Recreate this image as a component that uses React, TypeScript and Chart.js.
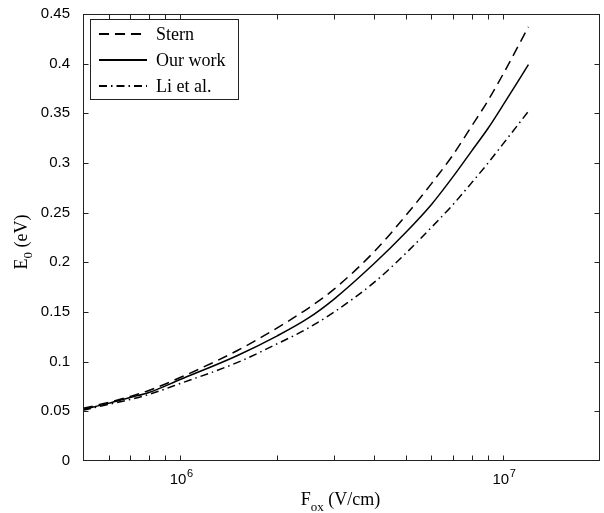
import React, { useEffect, useRef } from 'react';
import { Chart, registerables } from 'chart.js';

Chart.register(...registerables);

// Field values F_ox (V/cm)
const fieldValues = [5e5, 6e5, 7e5, 8e5, 1e6, 1.5e6, 2e6, 2.5e6, 3e6, 4e6, 5e6, 6e6, 7e6, 8e6, 9e6, 1e7, 1.2e7];
// E0 (eV) for each series
const sternValues = [0.053, 0.059, 0.065, 0.071, 0.084, 0.111, 0.134, 0.154, 0.173, 0.211, 0.247, 0.279, 0.308, 0.337, 0.363, 0.389, 0.437];
const ourWorkValues = [0.052, 0.058, 0.064, 0.069, 0.082, 0.106, 0.126, 0.144, 0.163, 0.199, 0.23, 0.258, 0.286, 0.312, 0.335, 0.358, 0.399];
const liValues = [0.051, 0.057, 0.062, 0.067, 0.078, 0.099, 0.118, 0.134, 0.15, 0.18, 0.209, 0.235, 0.258, 0.28, 0.3, 0.319, 0.352];

const seriesLabels = ['Stern', 'Our work', 'Li et al.'];

// Tick positions
const xTickValues = [5e5, 6e5, 7e5, 8e5, 9e5, 1e6, 2e6, 3e6, 4e6, 5e6, 6e6, 7e6, 8e6, 9e6, 1e7, 2e7];
const xLabelValues = [1e6, 1e7];
const xLabelExponents = ['6', '7'];
const yTickValues = [0, 0.05, 0.1, 0.15, 0.2, 0.25, 0.3, 0.35, 0.4, 0.45];

const xMin = 5e5;
const xMax = 2e7;
const yMin = 0;
const yMax = 0.45;

const dashes: number[][] = [[10, 6], [], [8, 4, 1.5, 4]];

const SERIF = '"Liberation Serif", "Times New Roman", serif';
const SANS = '"Liberation Sans", Arial, sans-serif';

const framePlugin = {
  id: 'matlabFrame',
  afterDraw(chart: any) {
    const { ctx, chartArea: a, scales } = chart;
    const xs = scales.x;
    const ys = scales.y;
    ctx.save();
    ctx.strokeStyle = '#222';
    ctx.lineWidth = 1;
    ctx.setLineDash([]);
    const L = Math.round(a.left) + 0.5;
    const R = Math.round(a.right) - 0.5;
    const T = Math.round(a.top) + 0.5;
    const B = Math.round(a.bottom) - 0.5;
    ctx.strokeRect(L, T, R - L, B - T);
    ctx.beginPath();
    for (const v of xTickValues) {
      const px = Math.round(xs.getPixelForValue(v)) + 0.5;
      if (px <= L + 1 || px >= R - 1) continue;
      ctx.moveTo(px, B);
      ctx.lineTo(px, B - 5);
      ctx.moveTo(px, T);
      ctx.lineTo(px, T + 5);
    }
    for (const v of yTickValues) {
      const py = Math.round(ys.getPixelForValue(v)) + 0.5;
      if (py <= T + 1 || py >= B - 1) continue;
      ctx.moveTo(L, py);
      ctx.lineTo(L + 5, py);
      ctx.moveTo(R, py);
      ctx.lineTo(R - 5, py);
    }
    ctx.stroke();

    ctx.fillStyle = '#000';
    ctx.textAlign = 'left';
    ctx.textBaseline = 'alphabetic';

    // x tick labels with superscript exponent
    xLabelValues.forEach((v, i) => {
      const px = xs.getPixelForValue(v);
      ctx.font = '15px ' + SANS;
      const wb = ctx.measureText('10').width;
      ctx.font = '11px ' + SANS;
      const we = ctx.measureText(xLabelExponents[i]).width;
      let x = px - (wb + we) / 2 + 1;
      ctx.font = '15px ' + SANS;
      ctx.fillText('10', x, 484);
      x += wb + 0.5;
      ctx.font = '11px ' + SANS;
      ctx.fillText(xLabelExponents[i], x, 477);
    });

    const big = '18px ' + SERIF;
    const small = '13px ' + SERIF;
    // x title
    {
      ctx.font = big;
      const w1 = ctx.measureText('F').width;
      const w3 = ctx.measureText(' (V/cm)').width;
      ctx.font = small;
      const w2 = ctx.measureText('ox').width;
      const total = w1 + w2 + w3;
      let x = 340.5 - total / 2;
      const base = 505;
      ctx.font = big;
      ctx.fillText('F', x, base);
      x += w1;
      ctx.font = small;
      ctx.fillText('ox', x, base + 6);
      x += w2;
      ctx.font = big;
      ctx.fillText(' (V/cm)', x, base);
    }
    // y title
    {
      ctx.save();
      ctx.translate(27, 242);
      ctx.rotate(-Math.PI / 2);
      ctx.font = big;
      const w1 = ctx.measureText('E').width;
      const w3 = ctx.measureText(' (eV)').width;
      ctx.font = small;
      const w2 = ctx.measureText('0').width;
      let x = -(w1 + w2 + w3) / 2;
      ctx.font = big;
      ctx.fillText('E', x, 0);
      x += w1;
      ctx.font = small;
      ctx.fillText('0', x, 5);
      x += w2;
      ctx.font = big;
      ctx.fillText(' (eV)', x, 0);
      ctx.restore();
    }

    // Legend
    {
      const bx = 90.5, by = 19.5, bw = 148, bh = 80;
      ctx.fillStyle = '#fff';
      ctx.fillRect(bx, by, bw, bh);
      ctx.strokeStyle = '#222';
      ctx.lineWidth = 1;
      ctx.setLineDash([]);
      ctx.strokeRect(bx, by, bw, bh);
      const rows = [34, 60, 86];
      chart.data.datasets.forEach((ds: any, i: number) => {
        ctx.beginPath();
        ctx.strokeStyle = '#000';
        ctx.lineWidth = 2;
        ctx.setLineDash(ds.borderDash || []);
        ctx.moveTo(99, rows[i]);
        ctx.lineTo(147, rows[i]);
        ctx.stroke();
        ctx.setLineDash([]);
        ctx.fillStyle = '#000';
        ctx.font = big;
        ctx.textAlign = 'left';
        ctx.textBaseline = 'middle';
        ctx.fillText(ds.label, 156, rows[i] + 1);
      });
    }
    ctx.restore();
  },
};

export default function App() {
  const ref = useRef<HTMLCanvasElement | null>(null);

  useEffect(() => {
    document.body.style.margin = '0';
    const canvas = ref.current;
    if (!canvas) return;
    const seriesValues = [sternValues, ourWorkValues, liValues];
    const chart = new Chart(canvas, {
      type: 'line',
      data: {
        datasets: seriesValues.map((vals, i) => ({
          label: seriesLabels[i],
          data: fieldValues.map((f, j) => ({ x: f, y: vals[j] })),
          borderColor: '#000',
          backgroundColor: '#000',
          borderWidth: 1.5,
          borderDash: dashes[i],
          pointRadius: 0,
          cubicInterpolationMode: 'monotone',
          fill: false,
        })),
      },
      options: {
        responsive: false,
        animation: false,
        devicePixelRatio: 1,
        layout: { padding: { left: 0, right: 4, top: 12, bottom: 0 } },
        plugins: {
          legend: { display: false },
          tooltip: { enabled: false },
          title: { display: false },
        },
        scales: {
          x: {
            type: 'logarithmic',
            min: xMin,
            max: xMax,
            grid: { display: false },
            border: { display: false },
            afterBuildTicks: (scale: any) => {
              scale.ticks = xTickValues.map((v) => ({ value: v }));
            },
            afterFit: (scale: any) => {
              scale.height = 52;
            },
            ticks: {
              autoSkip: false,
              maxRotation: 0,
              minRotation: 0,
              callback: () => '',
            },
          },
          y: {
            type: 'linear',
            min: yMin,
            max: yMax,
            grid: { display: false },
            border: { display: false },
            afterBuildTicks: (scale: any) => {
              scale.ticks = yTickValues.map((v) => ({ value: v }));
            },
            afterFit: (scale: any) => {
              scale.width = 83;
            },
            ticks: {
              padding: 5,
              color: '#000',
              font: { family: SANS, size: 15 },
              callback: (v: any) => String(Number(Number(v).toFixed(2))),
            },
          },
        },
      },
      plugins: [framePlugin],
    });
    return () => chart.destroy();
  }, []);

  return (
    <div style={{ width: 604, height: 513, background: '#fff' }}>
      <canvas ref={ref} width={604} height={513} style={{ display: 'block' }} />
    </div>
  );
}
